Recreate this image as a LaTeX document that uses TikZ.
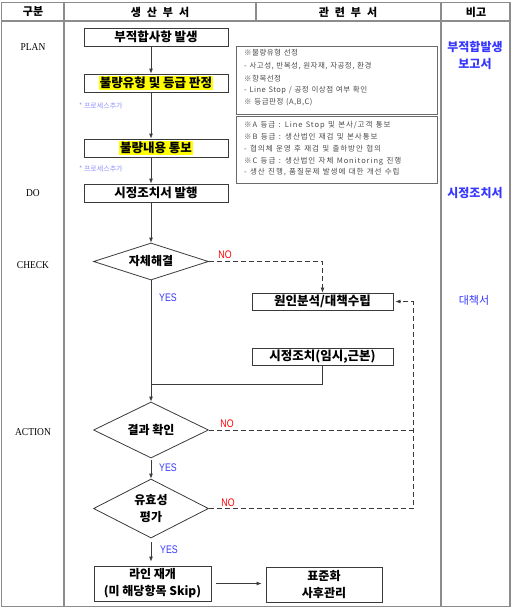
\documentclass[tikz,border=0pt]{standalone}
\usepackage{fontspec}
\setmainfont{Liberation Serif}
\newfontfamily\kr[WordSpace=3]{Noto Sans CJK KR}
\newfontfamily\krs{Noto Sans CJK KR}
\newfontfamily\krsa[LetterSpace=6,WordSpace=1.3]{Noto Sans CJK KR}
\newfontfamily\krsb[LetterSpace=12,WordSpace=1.3]{Noto Sans CJK KR}
\newfontfamily\latn[FakeStretch=0.9]{Liberation Serif}
\newfontfamily\latc[FakeStretch=0.8]{Liberation Sans}
\usetikzlibrary{shapes.geometric,arrows.meta}
\definecolor{tline}{HTML}{8C8C8C}
\definecolor{bline}{HTML}{3A3A3A}
\definecolor{sline}{HTML}{6A6A6A}
\definecolor{stext}{HTML}{4A4A4A}
\definecolor{kblue}{HTML}{3636FF}
\definecolor{lblue}{HTML}{9090FF}
\definecolor{kred}{HTML}{FF0000}
\definecolor{hl}{HTML}{FFFF00}
\setlength{\fboxsep}{1pt}
\begin{document}
\begin{tikzpicture}[x=1pt,y=-1pt,
  tbl/.style={draw=tline,line width=1.3pt},
  box/.style={draw=bline,line width=0.8pt,minimum width=144pt,minimum height=18pt,inner sep=0pt,
    font=\kr\bfseries\fontsize{12.5}{17}\selectfont},
  sbox/.style={draw=sline,line width=0.9pt,inner sep=0pt},
  stxt/.style={anchor=west,inner sep=0pt,text=stext,font=\krsa\fontsize{7.5}{9}\selectfont},
  stxb/.style={anchor=west,inner sep=0pt,text=stext,font=\krsb\fontsize{7.5}{9}\selectfont},
  dia/.style={diamond,draw=bline,line width=0.8pt,minimum width=115pt,inner sep=0pt},
  dtxt/.style={inner sep=0pt,align=center,font=\kr\bfseries\fontsize{12}{17}\selectfont},
  hdr/.style={inner sep=0pt,font=\kr\bfseries\fontsize{11}{13}\selectfont},
  row/.style={inner sep=0pt,font=\latn\fontsize{10.5}{12}\selectfont},
  rem/.style={inner sep=0pt,text=kblue,font=\kr\bfseries\fontsize{12}{13}\selectfont},
  yes/.style={inner sep=0pt,text=kblue,font=\latc\fontsize{11}{12}\selectfont},
  no/.style={inner sep=0pt,text=kred,font=\latc\fontsize{11}{12}\selectfont},
  addp/.style={anchor=west,inner sep=0pt,text=lblue,font=\krs\fontsize{7}{8}\selectfont},
  conn/.style={draw=bline,line width=0.8pt},
  arr/.style={conn,-{Latex[length=5pt,width=4pt]}},
  dsh/.style={conn,dash pattern=on 5pt off 3pt}
]
\useasboundingbox (0,0) rectangle (512,608);
% table
\draw[tbl] (1.5,2.5) rectangle (510,606.5);
\draw[tbl] (1.5,21) -- (510,21);
\draw[tbl] (64,2.5) -- (64,606.5);
\draw[tbl] (441,2.5) -- (441,606.5);
\draw[tbl] (256,2.5) -- (256,21);
\node[hdr] (h1) at (33,12) {구분};
\node[hdr] (h2) at (160,12) {생\hspace{6pt}산\hspace{6pt}부\hspace{6pt}서};
\node[hdr] (h3) at (348,12) {관\hspace{6pt}련\hspace{6pt}부\hspace{6pt}서};
\node[hdr] (h4) at (476,12) {비고};
% row labels
\node[row] (rp) at (33,47) {PLAN};
\node[row] (rd) at (33,193) {DO};
\node[row] (rc) at (33,265) {CHECK};
\node[row] (ra) at (33,432) {ACTION};
% remarks
\node[rem] (m1) at (475,47) {부적합발생};
\node[rem] (m2) at (475,64) {보고서};
\node[rem] (m3) at (475,193) {시정조치서};
\node[rem,font=\krs\fontsize{11}{12}\selectfont] (m4) at (474,300) {대책서};
% main flow
\coordinate (sp) at (151,0);
\coordinate (rx) at (413,0);
\node[box] (n1) at (156,37) {부적합사항 발생};
\node[box] (n2) at (156,83) {\colorbox{hl}{불량유형 및 등급 판정}};
\node[box] (n3) at (156,148) {\colorbox{hl}{불량내용 통보}};
\node[box] (n4) at (156,193) {시정조치서 발행};
\node[addp] (p1) at (79,106) {* 프로세스추가};
\node[addp] (p2) at (79,169) {* 프로세스추가};
\draw[arr] (n1.south -| sp) -- (n2.north -| sp);
\draw[arr] (n2.south -| sp) -- (n3.north -| sp);
\draw[arr] (n3.south -| sp) -- (n4.north -| sp);
% side boxes
\node[sbox,anchor=north west,minimum width=201pt,minimum height=68pt] (s1) at (236,46) {};
\node[sbox,anchor=north west,minimum width=201pt,minimum height=67pt] (s2) at (236,116) {};
\node[stxt] (sa1) at (244,53) {※불량유형 선정};
\node[stxt] (sa2) at (244,66) {- 사고성, 반복성, 원자재, 자공정, 환경};
\node[stxt] (sa3) at (244,79) {※항목선정};
\node[stxt] (sa4) at (244,90.5) {- Line Stop / 공정 이상점 여부 확인};
\node[stxt] (sa5) at (244,102) {※ 등급판정 (A,B,C)};
\node[stxb] (sb1) at (244,125) {※A 등급 : Line Stop 및 본사/고객 통보};
\node[stxb] (sb2) at (244,137) {※B 등급 : 생산법인 재검 및 본사통보};
\node[stxb] (sb3) at (244,149) {- 협의체 운영 후 재검 및 출하방안 협의};
\node[stxb] (sb4) at (244,161) {※C 등급 : 생산법인 자체 Monitoring 진행};
\node[stxb] (sb5) at (244,172) {- 생산 진행, 품질문제 발생에 대한 개선 수립};
% decisions
\node[dia,minimum height=37pt] (d1) at (151,261.5) {};
\node[dtxt] (d1t) at (d1) {자체해결};
\node[dia,minimum height=56pt] (d2) at (151,430) {};
\node[dtxt] (d2t) at (d2) {결과 확인};
\node[dia,minimum height=59pt] (d3) at (151,508.5) {};
\node[dtxt] (d3t) at (d3) {유효성\\평가};
\draw[arr] (n4.south -| sp) -- (d1.north);
\draw[arr] (d1.south) -- (d2.north);
\draw[arr,shorten <=2pt] (d2.south) -- (d3.north);
% right boxes
\node[box,minimum width=141pt,minimum height=17pt] (b5) at (322.5,301.5) {원인분석/대책수립};
\node[box,minimum width=141pt,minimum height=17pt] (b6) at (322.5,356.5) {시정조치(임시,근본)};
\coordinate (j1) at (151,384);
\draw[conn] (b6.south) |- (j1);
% bottom boxes
\node[box,minimum width=117pt,minimum height=35pt,align=center,font=\kr\bfseries\fontsize{12}{17}\selectfont] (b7) at (152.5,583.5) {라인 재개\\(미 해당항목 Skip)};
\node[box,minimum width=116pt,minimum height=35pt,align=center,font=\kr\bfseries\fontsize{12}{17}\selectfont] (b8) at (324,584.5) {표준화\\사후관리};
\draw[arr,shorten <=4pt,shorten >=4pt] (d3.south) -- (b7.north -| sp);
\draw[arr,shorten <=5pt,shorten >=4pt] (b7.east) -- (b7.east -| b8.west);
% NO paths
\draw[dsh,-{Latex[length=5pt,width=4pt]}] (d1.east) -| (b5.north);
\draw[dsh] (d2.east) -- (d2.east -| rx);
\draw[dsh,-{Latex[length=5pt,width=4pt]},shorten >=2pt] (d3.east) -| (rx |- b5.east) -- (b5.east);
% labels
\node[no] (no1) at (225,255) {NO};
\node[no] (no2) at (227,424) {NO};
\node[no] (no3) at (228,503) {NO};
\node[yes] (y1) at (168,298) {YES};
\node[yes] (y2) at (168,468) {YES};
\node[yes] (y3) at (169,550) {YES};
\end{tikzpicture}
\end{document}
